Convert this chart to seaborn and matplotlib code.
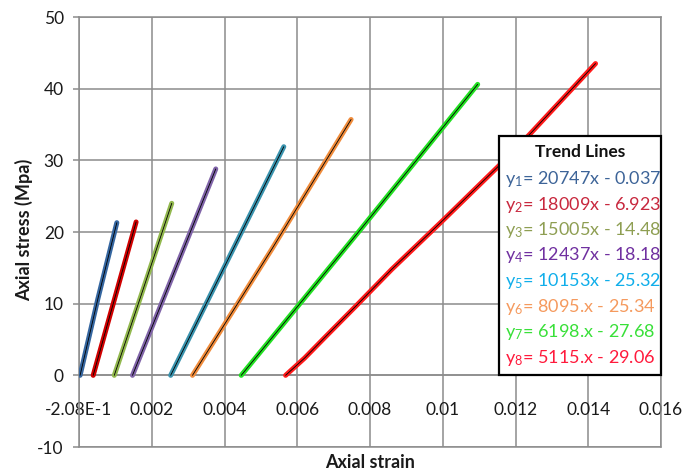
import numpy as np
import pandas as pd
import matplotlib
matplotlib.use("Agg")
import matplotlib.pyplot as plt
from matplotlib.patches import Rectangle
import seaborn as sns

# ---------------- data ----------------
s1_x = [0.00003, 0.00052, 0.00104]
s1_y = [0.0, 10.7, 21.3]
s2_x = [0.00039, 0.00098, 0.00157]
s2_y = [0.0, 10.7, 21.4]
s3_x = [0.00097, 0.00175, 0.00255]
s3_y = [0.0, 11.8, 24.0]
s4_x = [0.00147, 0.00260, 0.00376]
s4_y = [0.0, 14.2, 28.8]
s5_x = [0.00252, 0.00410, 0.00563]
s5_y = [0.0, 16.2, 31.9]
s6_x = [0.00312, 0.00530, 0.00748]
s6_y = [0.0, 17.6, 35.7]
s7_x = [0.00446, 0.00770, 0.01096]
s7_y = [0.0, 20.1, 40.6]
s8_x = [0.00568, 0.00620, 0.00680, 0.00760, 0.00860, 0.01000, 0.01200, 0.01420]
s8_y = [0.0, 2.4, 5.5, 9.6, 14.8, 21.6, 31.5, 43.5]

series_x = [s1_x, s2_x, s3_x, s4_x, s5_x, s6_x, s7_x, s8_x]
series_y = [s1_y, s2_y, s3_y, s4_y, s5_y, s6_y, s7_y, s8_y]
series_names = ["S1", "S2", "S3", "S4", "S5", "S6", "S7", "S8"]
line_colors = ["#3566A0", "#D00000", "#92B84E", "#8064A8",
               "#3A93AE", "#F08C3C", "#22E022", "#FF1A1A"]

trend_labels = [r"$\mathregular{y_1}$= 20747x - 0.037",
                r"$\mathregular{y_2}$= 18009x - 6.923",
                r"$\mathregular{y_3}$= 15005x - 14.48",
                r"$\mathregular{y_4}$= 12437x - 18.18",
                r"$\mathregular{y_5}$= 10153x - 25.32",
                r"$\mathregular{y_6}$= 8095.x - 25.34",
                r"$\mathregular{y_7}$= 6198.x - 27.68",
                r"$\mathregular{y_8}$= 5115.x - 29.06"]
label_colors = ["#3D6498", "#C8283E", "#8E9E52", "#7030A0",
                "#10AEEA", "#F59A5E", "#39E039", "#FF1A3C"]

x_ticks = [0.0, 0.002, 0.004, 0.006, 0.008, 0.010, 0.012, 0.014, 0.016]
x_tick_labels = ["-2.08E-1", "0.002", "0.004", "0.006", "0.008",
                 "0.01", "0.012", "0.014", "0.016"]
y_ticks = [-10, 0, 10, 20, 30, 40, 50]

# ---------------- build table ----------------
rows = []
for name, xs, ys in zip(series_names, series_x, series_y):
    for i, (xv, yv) in enumerate(zip(xs, ys)):
        rows.append({"series": name, "order": i, "strain": xv, "stress": yv})
df = pd.DataFrame(rows)

sns.set_theme(style="white")
plt.rcParams["font.family"] = ["Lato", "DejaVu Sans"]
plt.rcParams["mathtext.default"] = "regular"
plt.rcParams["axes.unicode_minus"] = False

fig = plt.figure(figsize=(6.83, 4.73), dpi=100)
ax = fig.add_axes([79 / 683, 26 / 473, 582 / 683, 430 / 473])

grid_c = "#8C8C8C"
sns.lineplot(data=df, x="strain", y="stress", hue="series",
             palette=dict(zip(series_names, line_colors)),
             sort=False, estimator=None, legend=False, lw=3.6,
             solid_capstyle="round", solid_joinstyle="round", ax=ax, zorder=3)
sns.lineplot(data=df, x="strain", y="stress", units="series",
             color="black", sort=False, estimator=None, legend=False,
             lw=0.6, ax=ax, zorder=4)

ax.set_xlim(0, 0.016)
ax.set_ylim(-10, 50)
ax.set_xticks(x_ticks)
ax.set_xticklabels(x_tick_labels)
ax.set_yticks(y_ticks)

ax.grid(True, color=grid_c, lw=1.1)
ax.set_axisbelow(True)
for sp in ["left", "right", "top", "bottom"]:
    ax.spines[sp].set_color(grid_c)
    ax.spines[sp].set_linewidth(1.1)
ax.spines["bottom"].set_position(("data", 0))
ax.axhline(-10, color=grid_c, lw=1.1, clip_on=False, zorder=1)

ax.tick_params(axis="x", length=0, pad=19, labelsize=12.5, colors="#1A1A1A")
ax.tick_params(axis="y", length=4, width=1.1, color=grid_c, direction="out",
               pad=7, labelsize=12.5, labelcolor="#1A1A1A", left=True)

ax.set_xlabel("")
ax.set_ylabel("")
fig.text(370 / 683, 1 - 462 / 473, "Axial strain", ha="center", va="center",
         fontsize=13, fontweight="bold", color="#1A1A1A")
fig.text(24 / 683, 1 - 230 / 473, "Axial stress (Mpa)", ha="center",
         va="center", rotation=90, fontsize=13, fontweight="bold",
         color="#1A1A1A")

# ---------------- trend-line box ----------------
def ax_x(px):
    return (px - 79) / 582

def ax_y(py):
    return (447 - py) / 430

box = Rectangle((ax_x(499), ax_y(375)), ax_x(661) - ax_x(499),
                ax_y(136) - ax_y(375), transform=ax.transAxes,
                facecolor="white", edgecolor="black", lw=1.6, zorder=10,
                clip_on=False)
ax.add_patch(box)
ax.text(ax_x(580), ax_y(152), "Trend Lines", transform=ax.transAxes,
        ha="center", va="center", fontsize=12.5, fontweight="bold",
        color="#111111", zorder=11)
entry_y = [179.3, 204.5, 229.8, 255.2, 280.7, 306.5, 332.0, 358.0]
for lab, col, py in zip(trend_labels, label_colors, entry_y):
    ax.text(ax_x(505), ax_y(py), lab, transform=ax.transAxes,
            ha="left", va="center", fontsize=13, color=col, zorder=11)

fig.savefig("out.png", dpi=100)
